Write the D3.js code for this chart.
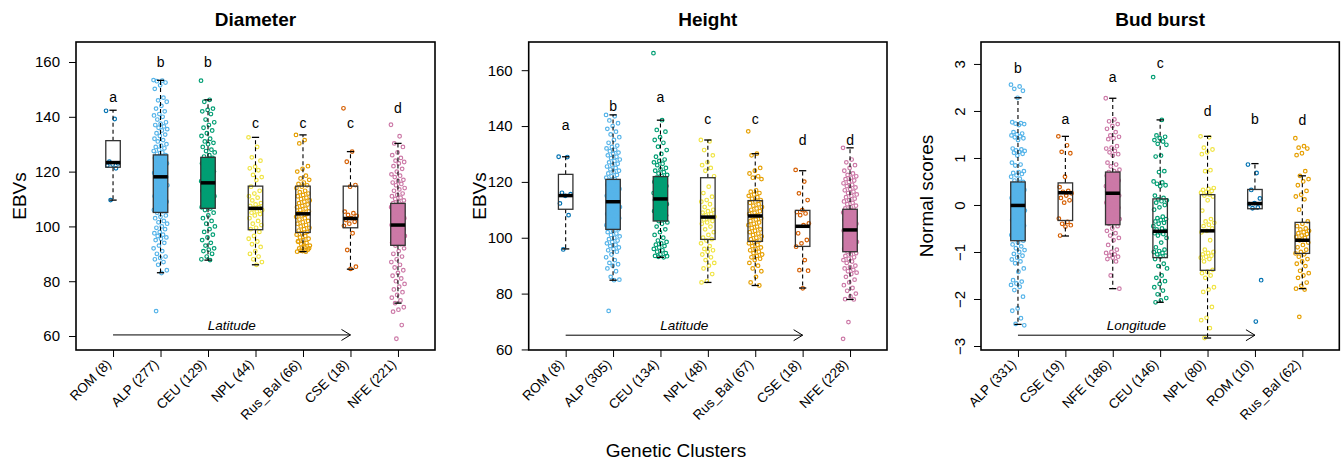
<!DOCTYPE html>
<html>
<head>
<meta charset="utf-8">
<script src="https://d3js.org/d3.v7.min.js"></script>
<style>
body { margin: 0; background: #fff; }
svg { font-family: "Liberation Sans", Arial, Helvetica, sans-serif; }
</style>
</head>
<body>
<svg id="chart" width="1342" height="463"></svg>
<script>
// ---- data ----
var clusterColors = {ROM: '#0072B2', ALP: '#56B4E9', CEU: '#009E73', NPL: '#F0E442', Rus_Bal: '#E69F00', CSE: '#D55E00', NFE: '#CC79A7'};

// Diameter
var diamClusters = ['ROM', 'ALP', 'CEU', 'NPL', 'Rus_Bal', 'CSE', 'NFE'];
var diamN = [8, 277, 129, 44, 66, 18, 221];
var diamLetters = ['a', 'b', 'b', 'c', 'c', 'c', 'd'];
var diamLetterAt = [145.4, 158.3, 158.3, 135.8, 135.8, 135.8, 141.3];
var diamLo = [109.6, 83.1, 87.7, 86.0, 90.8, 84.4, 72.0];
var diamQ1 = [121.6, 105.1, 106.6, 98.8, 97.8, 99.5, 93.1];
var diamMed = [123.3, 118.1, 115.9, 106.6, 104.6, 102.9, 100.5];
var diamQ3 = [131.3, 126.1, 125.2, 114.7, 114.7, 114.7, 108.4];
var diamHi = [142.4, 153.3, 146.2, 132.5, 133.4, 127.3, 130.3];
var diamPts = [
  [142.2, 139.2, 123.6, 123.0, 122.6, 122.2, 121.2, 109.6],
  [153.4, 153.2, 153, 152.5, 151.5, 150.2, 147, 146, 145.5, 144, 143, 142, 141, 140.5, 140, 139, 138, 137.5, 137, 136.5, 136, 135.5, 135, 134, 133.5, 133, 132, 131.5, 131, 130, 129.5, 129, 128.5, 128, 127.5, 127, 126.5, 126, 125.5, 125, 124, 123.5, 123, 122, 121.5, 121, 120, 119.5, 119, 118.5, 118, 117.5, 117, 116, 115.5, 115, 114, 113.5, 113, 112, 111, 110.5, 110, 109, 108.5, 108, 107, 106.5, 106, 105.5, 105, 104, 103.5, 103, 102, 101.5, 101, 100, 99.5, 99, 98, 97.5, 97, 96.5, 96, 95.5, 95, 94, 93, 92, 91, 90, 89, 88.5, 88, 87, 86, 84, 83, 69.1],
  [153.2, 146.2, 145.5, 143, 142.5, 142, 141, 139, 138, 137, 136, 135, 134, 133, 132, 131, 130.5, 130, 129, 128, 127.5, 127, 126, 125.5, 125, 124, 123, 122, 121, 120, 119, 118.5, 118, 117, 116.5, 116, 115.5, 115, 114, 113, 112, 111.5, 111, 110, 109, 108.5, 108, 107, 106.5, 106, 105, 104, 103, 102, 101, 100, 99, 98, 97, 96, 95, 94, 93, 92, 91.5, 91, 90, 89, 88, 87.7],
  [132.5, 129, 125.2, 124, 121.8, 121.2, 120.5, 118.8, 118, 116.9, 114.5, 113, 112, 111, 110.5, 109.5, 108.5, 108, 107.5, 107, 106.6, 106, 105.5, 105, 104.5, 104, 103, 102, 101, 100.5, 99.5, 99, 98, 96.5, 95.5, 94.5, 93.5, 92.5, 91, 90, 89, 88, 87, 86],
  [133.4, 131.5, 130.3, 122, 121, 120, 118.5, 117.5, 117, 116, 115.5, 115, 114.5, 114, 113, 112.5, 112, 111.5, 111, 110.5, 110, 109.5, 109, 108.5, 108, 107.5, 107, 106.5, 106, 105.5, 105, 104.8, 104.5, 104, 103.5, 103, 102.5, 102, 101.5, 101, 100.5, 100, 99.5, 99, 98.5, 98, 97.5, 97, 96.5, 96, 95.5, 95, 94.5, 94, 93.5, 93, 92.5, 92, 91.5, 91, 90.8, 90.8, 91.2, 92, 93, 94.5],
  [143.1, 127.3, 123.6, 115.1, 114.5, 105.4, 104.8, 104.2, 103.8, 103, 102.3, 101.7, 101, 100.2, 97.5, 91.4, 85.3, 84.5],
  [137.1, 132.9, 130.3, 129, 127, 126, 125, 124, 123.5, 123, 122, 121, 120, 119, 118.5, 118, 117, 116.5, 116, 115.5, 115, 114, 113.5, 113, 112, 111.5, 111, 110.5, 110, 109.5, 109, 108.5, 108, 107.5, 107, 106.5, 106, 105.5, 105, 104.5, 104, 103.5, 103, 102.5, 102, 101.5, 101, 100.5, 100, 99.5, 99, 98.5, 98, 97.5, 97, 96.5, 96, 95.5, 95, 94.5, 94, 93.5, 93, 92, 91, 90, 89, 88, 87, 86, 85, 84, 83, 82, 81, 80, 79, 78, 77, 76, 75, 74, 73, 72, 70.5, 69.6, 68.9, 64, 59]
];

// Height
var heightClusters = ['ROM', 'ALP', 'CEU', 'NPL', 'Rus_Bal', 'CSE', 'NFE'];
var heightN = [8, 305, 134, 48, 67, 18, 228];
var heightLetters = ['a', 'b', 'a', 'c', 'c', 'd', 'd'];
var heightLetterAt = [138.6, 145.4, 148.6, 140.8, 140.8, 133.2, 133.2];
var heightLo = [96.0, 84.8, 93.0, 84.0, 82.9, 82.0, 77.9];
var heightQ1 = [110.2, 103.0, 106.0, 99.4, 98.7, 96.9, 95.0];
var heightMed = [115.1, 112.9, 113.9, 107.4, 107.8, 104.1, 102.8];
var heightQ3 = [122.7, 120.9, 121.9, 121.5, 113.3, 109.8, 110.2];
var heightHi = [129.0, 144.0, 142.1, 135.0, 130.1, 124.0, 132.2];
var heightPts = [
  [129.0, 128.9, 116.1, 115.6, 115.0, 112.3, 108.1, 95.8],
  [144, 143.5, 142, 141, 140, 139, 138, 137, 136, 135, 134, 133, 132.5, 132, 131.5, 131, 130.5, 130, 129.5, 129, 128.5, 128, 127.5, 127, 126.5, 126, 125.5, 125, 124.5, 124, 123.5, 123, 122.5, 122, 121.5, 121, 120.5, 120, 119.5, 119, 118.5, 118, 117.5, 117, 116.5, 116, 115.5, 115, 114.5, 114, 113.5, 113, 112.5, 112, 111.5, 111, 110.5, 110, 109.5, 109, 108.5, 108, 107.5, 107, 106.5, 106, 105.5, 105, 104.5, 104, 103.5, 103, 102.5, 102, 101.5, 101, 100.5, 100, 99.5, 99, 98.5, 98, 97.5, 97, 96.5, 96, 95.5, 95, 94, 93, 92, 91, 90.5, 90, 89, 88, 86, 85, 84.8, 73.8],
  [166.1, 142.1, 138.6, 138, 136, 135, 134, 132.6, 131.4, 130, 129, 128, 127.5, 127, 126.5, 126, 125, 124.5, 124, 123.5, 123, 122.5, 122, 121.5, 121, 120.5, 120, 119.5, 119, 118.5, 118, 117.5, 117, 116.5, 116, 115.5, 115, 114.5, 114, 113.5, 113, 112.5, 112, 111.5, 111, 110.5, 110, 109.5, 109, 108.5, 108, 107.5, 107, 106.5, 106, 105.5, 105, 104, 103, 102, 101, 100, 99, 98.5, 98, 97.5, 97, 96.5, 96, 95.5, 95, 94.5, 94, 93.5, 93, 93.2, 93.4],
  [135, 134.5, 131.4, 129.5, 127, 126, 125, 124, 122, 118.3, 116, 114.7, 113.5, 112.9, 112, 111, 110, 109.5, 109, 108.5, 108, 107.5, 107, 106.5, 106, 105.5, 105, 104, 103, 102, 101, 100, 99.5, 99, 98, 97, 96, 95.5, 95, 94, 93, 92, 91, 90, 89, 87, 84.5, 84],
  [138.1, 130.1, 129.5, 125, 124, 123, 122, 121.5, 121, 117, 116.5, 116, 115.5, 115, 114.5, 114, 113.5, 113, 112.5, 112, 111.5, 111, 110.5, 110, 109.5, 109, 108.5, 108, 107.5, 107, 106.5, 106, 105.5, 105, 104.5, 104, 103.5, 103, 102.5, 102, 101.5, 101, 100.5, 100, 99.5, 99, 98.5, 98, 97.5, 97, 96.5, 96, 95.5, 95, 94.5, 94, 93.5, 93, 92.5, 92, 91, 90, 89, 88, 86, 84, 82.9],
  [124.3, 120.1, 115.9, 113.5, 109.9, 109.2, 108.7, 108.1, 105.1, 104.5, 101.6, 99.2, 98, 96.8, 92, 88.4, 88.2, 81.9],
  [132.2, 128, 127, 126, 125, 124, 123, 122.5, 122, 121.5, 121, 120.5, 120, 119.5, 119, 118.5, 118, 117.5, 117, 116.5, 116, 115.5, 115, 114.5, 114, 113.5, 113, 112.5, 112, 111.5, 111, 110.5, 110, 109.5, 109, 108.5, 108, 107.5, 107, 106.5, 106, 105.5, 105, 104.5, 104, 103.5, 103, 102.5, 102, 101.5, 101, 100.5, 100, 99.5, 99, 98.5, 98, 97.5, 97, 96.5, 96, 95.5, 95, 94.5, 94, 93.5, 93, 92.5, 92, 91.5, 91, 90, 89.5, 89, 88.5, 88, 87.5, 87, 86, 85, 84, 83, 82, 81, 80, 79, 78, 77.9, 69.8, 63.8]
];

// Bud burst
var budClusters = ['ALP', 'CSE', 'NFE', 'CEU', 'NPL', 'ROM', 'Rus_Bal'];
var budN = [331, 19, 186, 146, 80, 10, 62];
var budLetters = ['b', 'a', 'a', 'c', 'd', 'b', 'd'];
var budLetterAt = [2.80, 1.73, 2.61, 2.91, 1.90, 1.73, 1.70];
var budLo = [-2.54, -0.66, -1.78, -2.07, -2.83, -0.08, -1.78];
var budQ1 = [-0.76, -0.33, -0.42, -1.12, -1.39, -0.08, -1.03];
var budMed = [-0.01, 0.26, 0.25, -0.56, -0.55, 0.03, -0.75];
var budQ3 = [0.49, 0.47, 0.70, 0.13, 0.22, 0.33, -0.37];
var budHi = [2.28, 1.46, 2.27, 1.81, 1.46, 0.88, 0.62];
var budPts = [
  [2.56, 2.52, 2.47, 2.43, 2.28, 1.76, 1.74, 1.73, 1.72, 1.7, 1.55, 1.52, 1.5, 1.48, 1.46, 1.44, 1.42, 1.38, 1.2, 1.18, 1.16, 1.15, 1.13, 1.11, 1.09, 1.05, 0.9, 0.86, 0.84, 0.72, 0.7, 0.68, 0.66, 0.63, 0.6, 0.56, 0.52, 0.49, 0.45, 0.42, 0.38, 0.35, 0.32, 0.28, 0.25, 0.22, 0.18, 0.15, 0.12, 0.08, 0.05, 0.02, -0.01, -0.04, -0.08, -0.12, -0.15, -0.2, -0.24, -0.28, -0.32, -0.36, -0.4, -0.44, -0.48, -0.52, -0.56, -0.6, -0.64, -0.68, -0.72, -0.76, -0.8, -0.84, -0.88, -0.92, -0.96, -1.0, -1.04, -1.08, -1.12, -1.16, -1.2, -1.24, -1.35, -1.42, -1.6, -1.63, -1.67, -1.7, -1.74, -1.81, -1.95, -2.2, -2.25, -2.41, -2.53, -2.56],
  [1.46, 1.27, 1.13, 1.1, 0.6, 0.38, 0.3, 0.28, 0.25, 0.2, 0.15, 0.1, 0.05, -0.29, -0.36, -0.4, -0.43, -0.46, -0.65],
  [2.27, 1.82, 1.78, 1.72, 1.68, 1.62, 1.55, 1.48, 1.45, 1.42, 1.4, 1.25, 1.22, 1.2, 1.15, 1.12, 1.08, 1.05, 0.9, 0.86, 0.82, 0.75, 0.72, 0.7, 0.68, 0.65, 0.62, 0.58, 0.55, 0.52, 0.5, 0.48, 0.45, 0.42, 0.4, 0.38, 0.35, 0.32, 0.3, 0.28, 0.25, 0.22, 0.2, 0.18, 0.15, 0.12, 0.1, 0.05, 0.02, -0.02, -0.06, -0.1, -0.15, -0.2, -0.25, -0.3, -0.35, -0.4, -0.45, -0.5, -0.55, -0.6, -0.65, -0.7, -0.75, -0.85, -0.95, -1.0, -1.02, -1.05, -1.08, -1.1, -1.12, -1.15, -1.2, -1.5, -1.78],
  [2.72, 1.81, 1.48, 1.45, 1.42, 1.38, 1.35, 1.3, 1.28, 1.05, 1.03, 0.72, 0.7, 0.5, 0.48, 0.45, 0.42, 0.4, 0.2, 0.15, 0.12, 0.1, 0.08, 0.05, 0.0, -0.05, -0.1, -0.25, -0.28, -0.3, -0.32, -0.35, -0.38, -0.4, -0.45, -0.5, -0.52, -0.55, -0.58, -0.6, -0.62, -0.65, -0.7, -0.8, -0.9, -0.95, -0.98, -1.0, -1.02, -1.05, -1.08, -1.1, -1.15, -1.25, -1.3, -1.35, -1.5, -1.55, -1.62, -1.68, -1.75, -1.82, -1.9, -1.98, -2.03, -2.07],
  [1.46, 1.44, 1.22, 1.18, 1.12, 1.08, 0.74, 0.72, 0.36, 0.34, 0.32, 0.3, 0.28, 0.26, 0.22, 0.2, 0.18, 0.1, -0.12, -0.3, -0.35, -0.38, -0.42, -0.45, -0.5, -0.55, -0.58, -0.75, -0.95, -1.0, -1.02, -1.05, -1.08, -1.1, -1.12, -1.15, -1.2, -1.38, -1.42, -1.45, -1.5, -1.55, -1.75, -1.8, -1.85, -2.17, -2.4, -2.45, -2.62, -2.83],
  [0.86, 0.68, 0.32, 0.14, 0.04, 0.02, -0.05, -0.07, -1.6, -2.48],
  [1.42, 1.25, 1.22, 1.2, 1.1, 1.06, 0.72, 0.62, 0.55, 0.5, 0.42, 0.3, 0.22, 0.18, 0.12, -0.1, -0.35, -0.4, -0.45, -0.5, -0.52, -0.55, -0.58, -0.6, -0.62, -0.65, -0.68, -0.7, -0.75, -0.8, -0.85, -0.9, -0.95, -1.0, -1.03, -1.05, -1.1, -1.15, -1.2, -1.25, -1.3, -1.4, -1.45, -1.5, -1.55, -1.65, -1.72, -1.78, -1.8, -2.38]
];

// ---- layout / style ----
var svg = d3.select('#chart');
var plotTop = 42, plotBottom = 350;

var panels = [
  {title: 'Diameter', ylab: 'EBVs', left: 76, right: 435, ylim: [54.9, 167.3], yticks: [60, 80, 100, 120, 140, 160], rotLabels: false,
   clusters: diamClusters, n: diamN, letters: diamLetters, letterAt: diamLetterAt,
   lo: diamLo, q1: diamQ1, med: diamMed, q3: diamQ3, hi: diamHi, pts: diamPts,
   dense: ['ALP', 'CEU', 'NFE'], arrow: {text: 'Latitude', at: 60.4}, ylabX: 26},
  {title: 'Height', ylab: 'EBVs', left: 528.7, right: 887, ylim: [59.8, 170.1], yticks: [60, 80, 100, 120, 140, 160], rotLabels: false,
   clusters: heightClusters, n: heightN, letters: heightLetters, letterAt: heightLetterAt,
   lo: heightLo, q1: heightQ1, med: heightMed, q3: heightQ3, hi: heightHi, pts: heightPts,
   dense: ['ALP', 'CEU', 'NFE'], arrow: {text: 'Latitude', at: 65.1}, ylabX: 486},
  {title: 'Bud burst', ylab: 'Normal scores', left: 981, right: 1339.3, ylim: [-3.085, 3.467], yticks: [-3, -2, -1, 0, 1, 2, 3], rotLabels: true,
   clusters: budClusters, n: budN, letters: budLetters, letterAt: budLetterAt,
   lo: budLo, q1: budQ1, med: budMed, q3: budQ3, hi: budHi, pts: budPts,
   dense: ['ALP', 'NFE'], arrow: {text: 'Longitude', at: -2.77}, ylabX: 933}
];

var boxW = 14.5;
// deterministic horizontal jitter (like stripchart jitter)
var jit = function(j) { return (((j * 0.6180339887) % 1) - 0.5) * 14; };

panels.forEach(function(p) {
  var g = svg.append('g');
  var x = d3.scaleLinear().domain([0.22, 7.78]).range([p.left, p.right]);
  var y = d3.scaleLinear().domain(p.ylim).range([plotBottom, plotTop]);

  //title
  g.append('text').attr('x', (p.left + p.right) / 2).attr('y', 26).attr('text-anchor', 'middle')
    .style('font-size', '19px').style('font-weight', 'bold').text(p.title);

  //y axis
  var yAxis = d3.axisLeft(y).tickValues(p.yticks).tickSize(7).tickPadding(9)
    .tickFormat(function(d) { return d3.format('d')(d); });
  var ya = g.append('g').attr('transform', 'translate(' + p.left + ',0)').call(yAxis);
  ya.select('.domain').remove();
  ya.selectAll('.tick line').attr('stroke', '#000').attr('stroke-width', 1);
  ya.selectAll('.tick text').style('font-size', '15px').attr('fill', '#000').style('font-family', 'inherit');
  if (p.rotLabels) {
    ya.selectAll('.tick text').attr('text-anchor', 'middle').attr('x', null).attr('dy', null)
      .attr('transform', 'translate(-16,0) rotate(-90)');
  }
  g.append('text').attr('transform', 'translate(' + p.ylabX + ',' + (plotTop + plotBottom) / 2 + ') rotate(-90)')
    .attr('text-anchor', 'middle').style('font-size', '19px').text(p.ylab);

  //x axis
  var xAxis = d3.axisBottom(x).tickValues(d3.range(1, 8)).tickSize(7).tickFormat('');
  var xa = g.append('g').attr('transform', 'translate(0,' + plotBottom + ')').call(xAxis);
  xa.select('.domain').remove();
  xa.selectAll('.tick line').attr('stroke', '#000').attr('stroke-width', 1);
  p.clusters.forEach(function(c, i) {
    g.append('text').attr('transform', 'translate(' + (x(i + 1) - 1) + ',' + (plotBottom + 15) + ') rotate(-45)')
      .attr('text-anchor', 'end').style('font-size', '13.5px').text(c + ' (' + p.n[i] + ')');
  });

  //box fills
  p.clusters.forEach(function(c, i) {
    g.append('rect').attr('x', x(i + 1) - boxW / 2).attr('width', boxW)
      .attr('y', y(p.q3[i])).attr('height', y(p.q1[i]) - y(p.q3[i]))
      .attr('fill', p.dense.indexOf(c) >= 0 ? clusterColors[c] : '#fff');
  });

  //points
  p.clusters.forEach(function(c, i) {
    g.append('g').selectAll('circle').data(p.pts[i]).enter().append('circle')
      .attr('cx', function(d, j) { return x(i + 1) + jit(j); })
      .attr('cy', function(d) { return y(d); })
      .attr('r', 1.8).attr('fill', 'none').attr('stroke', clusterColors[c]).attr('stroke-width', 1.2);
  });

  //whiskers, boxes, medians
  p.clusters.forEach(function(c, i) {
    var cx = x(i + 1);
    g.append('line').attr('x1', cx).attr('x2', cx).attr('y1', y(p.q3[i])).attr('y2', y(p.hi[i]))
      .attr('stroke', '#000').attr('stroke-width', 1.1).attr('stroke-dasharray', '4,3');
    g.append('line').attr('x1', cx).attr('x2', cx).attr('y1', y(p.q1[i])).attr('y2', y(p.lo[i]))
      .attr('stroke', '#000').attr('stroke-width', 1.1).attr('stroke-dasharray', '4,3');
    [p.hi[i], p.lo[i]].forEach(function(v) {
      g.append('line').attr('x1', cx - boxW / 4).attr('x2', cx + boxW / 4).attr('y1', y(v)).attr('y2', y(v))
        .attr('stroke', '#000').attr('stroke-width', 1.3);
    });
    g.append('rect').attr('x', cx - boxW / 2).attr('width', boxW)
      .attr('y', y(p.q3[i])).attr('height', y(p.q1[i]) - y(p.q3[i]))
      .attr('fill', 'none').attr('stroke', '#333').attr('stroke-width', 1.3);
    g.append('line').attr('x1', cx - boxW / 2).attr('x2', cx + boxW / 2).attr('y1', y(p.med[i])).attr('y2', y(p.med[i]))
      .attr('stroke', '#000').attr('stroke-width', 3.5);
    //significance letters
    g.append('text').attr('x', cx).attr('y', y(p.letterAt[i])).attr('text-anchor', 'middle')
      .style('font-size', '14px').text(p.letters[i]);
  });

  //gradient arrow
  var ay = y(p.arrow.at);
  var x1 = x(1), x2 = x(6);
  g.append('line').attr('x1', x1).attr('x2', x2).attr('y1', ay).attr('y2', ay).attr('stroke', '#000').attr('stroke-width', 1);
  g.append('path').attr('d', 'M' + (x2 - 9) + ',' + (ay - 5.5) + 'L' + x2 + ',' + ay + 'L' + (x2 - 9) + ',' + (ay + 5.5))
    .attr('fill', 'none').attr('stroke', '#000').attr('stroke-width', 1);
  g.append('text').attr('x', (x1 + x2) / 2).attr('y', ay - 5).attr('text-anchor', 'middle')
    .style('font-size', '13.5px').style('font-style', 'italic').text(p.arrow.text);

  //frame
  g.append('rect').attr('x', p.left).attr('y', plotTop).attr('width', p.right - p.left).attr('height', plotBottom - plotTop)
    .attr('fill', 'none').attr('stroke', '#000').attr('stroke-width', 1.6);
});

svg.append('text').attr('x', 676).attr('y', 457).attr('text-anchor', 'middle').style('font-size', '19px').text('Genetic Clusters');
</script>
</body>
</html>
